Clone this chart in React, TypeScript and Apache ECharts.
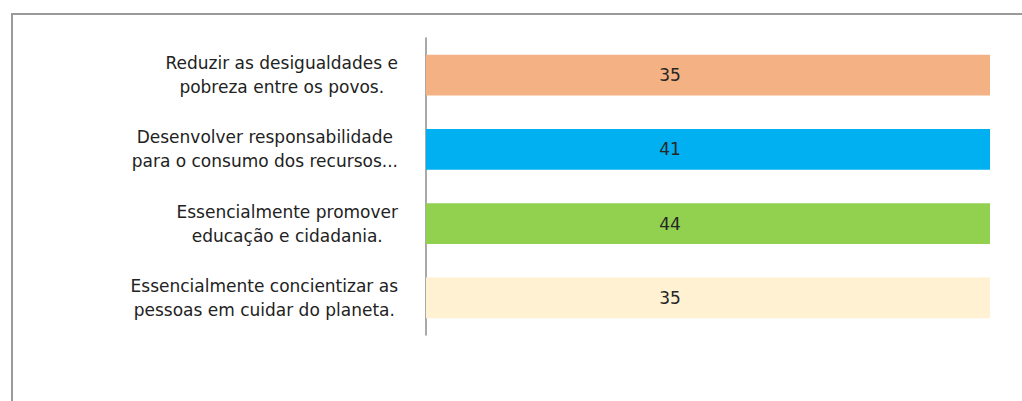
import React, { useEffect, useRef } from "react";
import * as echarts from "echarts";

const categories: string[][] = [
  ["Reduzir as desigualdades e", "pobreza entre os povos."],
  ["Desenvolver responsabilidade", "para o consumo dos recursos..."],
  ["Essencialmente promover", "educação e cidadania."],
  ["Essencialmente concientizar as", "pessoas em cuidar do planeta."],
];
const values: number[] = [35, 41, 44, 35];
const barColors: string[] = ["#F4B183", "#00B0F0", "#92D050", "#FFF1D2"];

export default function App() {
  const ref = useRef<HTMLDivElement>(null);

  useEffect(() => {
    document.body.style.margin = "0";
    if (!ref.current) return;
    const chart = echarts.init(ref.current, undefined, { renderer: "svg" });

    // 100% stacked: each category's share of its own total (one series only)
    const totals = values.map((v) => v);
    const shares = values.map((v, i) => (v / totals[i]) * 100);

    chart.setOption({
      animation: false,
      backgroundColor: "#ffffff",
      graphic: [
        {
          type: "rect",
          shape: { x: 12, y: 14, width: 1030, height: 400 },
          style: { fill: "none", stroke: "#9a9a9a", lineWidth: 2 },
          silent: true,
        },
      ],
      grid: { left: 426, right: 32, top: 38, bottom: 66, containLabel: false },
      xAxis: {
        type: "value",
        min: 0,
        max: 100,
        show: false,
      },
      yAxis: {
        type: "category",
        inverse: true,
        data: categories.map((c) => c.join("\n")),
        axisLine: { show: true, lineStyle: { color: "#8c8c8c", width: 1.5 } },
        axisTick: { show: false },
        axisLabel: {
          margin: 28,
          align: "right",
          color: "#222222",
          fontFamily: "DejaVu Sans",
          fontSize: 17,
          lineHeight: 24,
          formatter: (v: string) =>
            v
              .split("\n")
              .map((l) => `{c|${l}}`)
              .join("\n"),
          rich: {
            c: {
              align: "center",
              fontFamily: "DejaVu Sans",
              fontSize: 17,
              lineHeight: 24,
              color: "#222222",
            },
          },
        },
      },
      series: [
        {
          type: "bar",
          stack: "total",
          barCategoryGap: "45%",
          data: shares.map((s, i) => ({
            value: s,
            itemStyle: { color: barColors[i] },
          })),
          label: {
            show: true,
            position: "inside",
            offset: [-38, 0],
            color: "#262626",
            fontFamily: "DejaVu Sans",
            fontSize: 17,
            formatter: (p: any) => String(values[p.dataIndex]),
          },
        },
      ],
    });

    return () => chart.dispose();
  }, []);

  return <div ref={ref} style={{ width: 1022, height: 401 }} />;
}
